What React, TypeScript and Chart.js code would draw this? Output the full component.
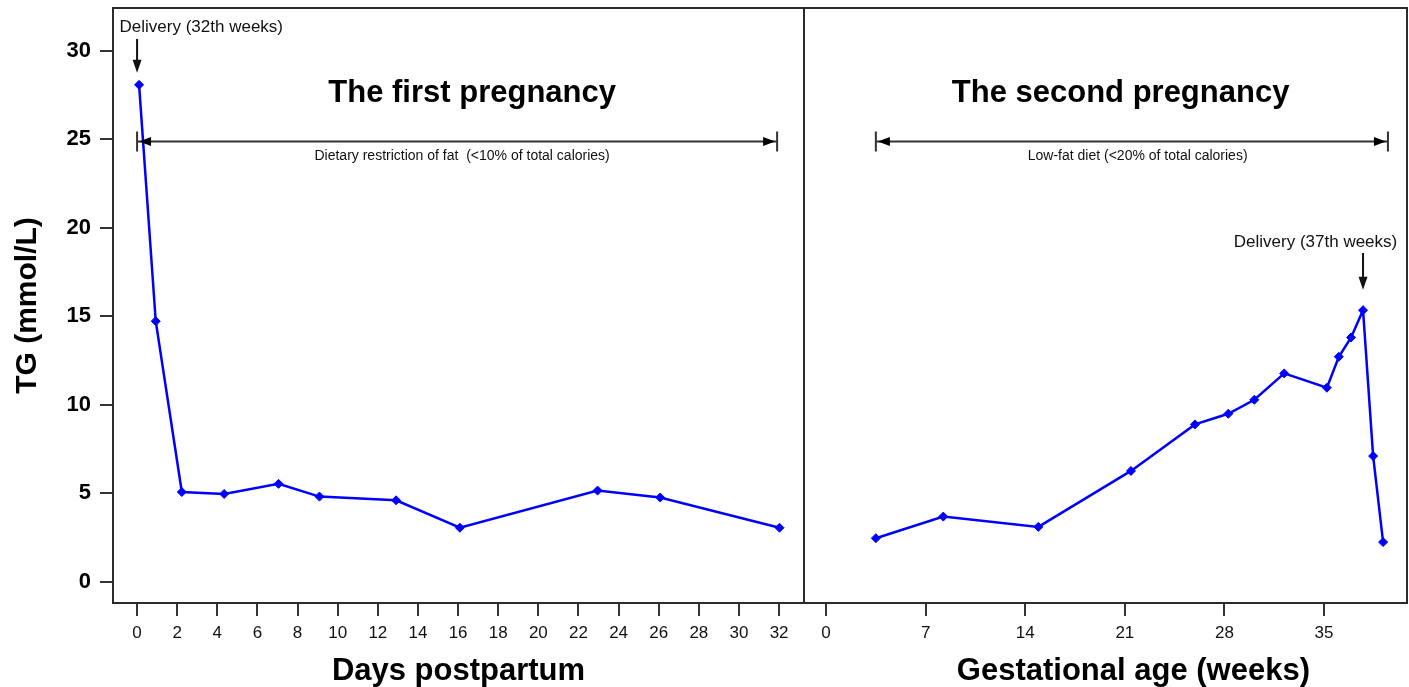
import React, { useEffect, useRef } from 'react';
import { Chart, registerables } from 'chart.js';

Chart.register(...registerables);

// ---- Data ----
const daysPostpartum = [0.1, 0.93, 2.23, 4.34, 7.05, 9.09, 12.91, 16.09, 22.95, 26.07, 32.02];
const tgFirstPregnancy = [28.07, 14.72, 5.07, 4.96, 5.53, 4.81, 4.6, 3.05, 5.15, 4.76, 3.05];

const gestationalWeeks = [3.5, 8.24, 14.92, 21.43, 25.93, 28.27, 30.1, 32.2, 35.2, 36.04, 36.9, 37.74, 38.45, 39.15];
const tgSecondPregnancy = [2.46, 3.68, 3.1, 6.26, 8.89, 9.49, 10.28, 11.77, 10.96, 12.71, 13.8, 15.34, 7.1, 2.24];

const yTicks = [0, 5, 10, 15, 20, 25, 30];
const dayTicks = [0, 2, 4, 6, 8, 10, 12, 14, 16, 18, 20, 22, 24, 26, 28, 30, 32];
const weekTicks = [0, 7, 14, 21, 28, 35];

const panelTitles = ['The first pregnancy', 'The second pregnancy'];
const dietLabels = ['Dietary restriction of fat  (<10% of total calories)', 'Low-fat diet (<20% of total calories)'];
const deliveryLabels = ['Delivery (32th weeks)', 'Delivery (37th weeks)'];
const rightAxisTitle = 'Gestational age (weeks)';

const FONT = '"Liberation Sans", Arial, Helvetica, sans-serif';

// annotation anchors in data coordinates
const annotationConfig = {
  titles: [
    { axis: 'x', x: 16.7, y: 27.6 },
    { axis: 'x2', x: 20.7, y: 27.6 },
  ],
  spans: [
    { axis: 'x', from: 0, to: 31.9, y: 24.87, labelX: 16.2, labelY: 24.07 },
    { axis: 'x2', from: 3.5, to: 39.49, y: 24.87, labelX: 21.9, labelY: 24.07 },
  ],
  delivery: [
    { axis: 'x', x: 0, textX: 3.2, textY: 31.3, top: 30.66, tip: 28.75 },
    { axis: 'x2', x: 37.74, textX: 34.4, textY: 19.18, top: 18.57, tip: 16.5 },
  ],
  rightAxisTitleX: 21.6,
};

function drawArrowHead(ctx: CanvasRenderingContext2D, x: number, y: number, dir: 'left' | 'right' | 'down', len: number, half: number) {
  ctx.beginPath();
  if (dir === 'left') {
    ctx.moveTo(x, y);
    ctx.lineTo(x + len, y - half);
    ctx.lineTo(x + len, y + half);
  } else if (dir === 'right') {
    ctx.moveTo(x, y);
    ctx.lineTo(x - len, y - half);
    ctx.lineTo(x - len, y + half);
  } else {
    ctx.moveTo(x, y);
    ctx.lineTo(x - half, y - len);
    ctx.lineTo(x + half, y - len);
  }
  ctx.closePath();
  ctx.fill();
}

const panelPlugin = {
  id: 'panelPlugin',
  afterDatasetsDraw(chart: any) {
    const { ctx, chartArea } = chart;
    const ys = chart.scales.y;
    const xs = chart.scales.x;
    const xs2 = chart.scales.x2;
    ctx.save();
    // frame
    ctx.strokeStyle = '#2b2b2b';
    ctx.lineWidth = 2;
    ctx.strokeRect(chartArea.left, chartArea.top, chartArea.right - chartArea.left, chartArea.bottom - chartArea.top);
    ctx.beginPath();
    ctx.moveTo(xs.right, chartArea.top);
    ctx.lineTo(xs.right, chartArea.bottom);
    ctx.stroke();

    // panel titles
    ctx.fillStyle = '#000';
    ctx.font = `bold 31px ${FONT}`;
    ctx.textAlign = 'center';
    ctx.textBaseline = 'middle';
    annotationConfig.titles.forEach((t, i) => {
      const sc = chart.scales[t.axis];
      ctx.fillText(panelTitles[i], sc.getPixelForValue(t.x), ys.getPixelForValue(t.y));
    });

    // right axis title (offset from the panel centre, as in the original)
    ctx.fillText(rightAxisTitle, xs2.getPixelForValue(annotationConfig.rightAxisTitleX), xs2.bottom - 15.5);

    // spans
    annotationConfig.spans.forEach((s, i) => {
      const sc = chart.scales[s.axis];
      const x1 = sc.getPixelForValue(s.from);
      const x2 = sc.getPixelForValue(s.to);
      const y = ys.getPixelForValue(s.y);
      ctx.strokeStyle = '#333';
      ctx.lineWidth = 2;
      ctx.beginPath();
      ctx.moveTo(x1, y);
      ctx.lineTo(x2, y);
      ctx.moveTo(x1, y - 10);
      ctx.lineTo(x1, y + 10);
      ctx.moveTo(x2, y - 10);
      ctx.lineTo(x2, y + 10);
      ctx.stroke();
      ctx.fillStyle = '#000';
      drawArrowHead(ctx, x1 + 2, y, 'left', 12, 4.5);
      drawArrowHead(ctx, x2 - 2, y, 'right', 12, 4.5);
      ctx.font = `14px ${FONT}`;
      ctx.textAlign = 'center';
      ctx.textBaseline = 'middle';
      ctx.fillStyle = '#111';
      ctx.fillText(dietLabels[i], sc.getPixelForValue(s.labelX), ys.getPixelForValue(s.labelY));
    });

    // delivery arrows
    annotationConfig.delivery.forEach((d, i) => {
      const sc = chart.scales[d.axis];
      const x = sc.getPixelForValue(d.x);
      const yTop = ys.getPixelForValue(d.top);
      const yTip = ys.getPixelForValue(d.tip);
      ctx.strokeStyle = '#111';
      ctx.lineWidth = 2;
      ctx.beginPath();
      ctx.moveTo(x, yTop);
      ctx.lineTo(x, yTip - 8);
      ctx.stroke();
      ctx.fillStyle = '#111';
      drawArrowHead(ctx, x, yTip, 'down', 13, 4.5);
      ctx.font = `17px ${FONT}`;
      ctx.textAlign = 'center';
      ctx.textBaseline = 'middle';
      ctx.fillText(deliveryLabels[i], sc.getPixelForValue(d.textX), ys.getPixelForValue(d.textY));
    });
    ctx.restore();
  },
};

function makeTicks(values: number[]) {
  return (scale: any) => {
    scale.ticks = values.map((v) => ({ value: v }));
  };
}

function fitX(scale: any) {
  scale.height = 84;
  scale.paddingLeft = 0;
  scale.paddingRight = 0;
  scale.paddingTop = 0;
  scale.paddingBottom = 0;
}

function fitY(scale: any) {
  scale.width = 113;
  scale.paddingLeft = 0;
  scale.paddingRight = 0;
  scale.paddingTop = 0;
  scale.paddingBottom = 0;
}

export default function App() {
  const canvasRef = useRef<HTMLCanvasElement | null>(null);

  useEffect(() => {
    if (!canvasRef.current) return;
    const lineStyle = {
      borderColor: '#0000ff',
      backgroundColor: '#0000ff',
      borderWidth: 2.5,
      pointStyle: 'rectRot' as const,
      pointRadius: 4.5,
      pointBackgroundColor: '#0000ff',
      pointBorderColor: '#0000ff',
      pointBorderWidth: 1,
      tension: 0,
    };
    const xGrid = { display: true, drawOnChartArea: false, drawTicks: true, tickLength: 13, color: '#333', lineWidth: 2 };
    const xTickOpts = { color: '#111', font: { family: FONT, size: 17 }, padding: 7, maxRotation: 0, autoSkip: false };
    const chart = new Chart(canvasRef.current, {
      type: 'line',
      data: {
        datasets: [
          {
            label: 'First pregnancy',
            data: daysPostpartum.map((d, i) => ({ x: d, y: tgFirstPregnancy[i] })),
            xAxisID: 'x',
            yAxisID: 'y',
            ...lineStyle,
          },
          {
            label: 'Second pregnancy',
            data: gestationalWeeks.map((w, i) => ({ x: w, y: tgSecondPregnancy[i] })),
            xAxisID: 'x2',
            yAxisID: 'y',
            ...lineStyle,
          },
        ],
      },
      options: {
        animation: false,
        responsive: false,
        maintainAspectRatio: false,
        layout: { autoPadding: false, padding: { top: 8, right: 2, left: 0, bottom: 0 } },
        plugins: { legend: { display: false }, tooltip: { enabled: false } },
        scales: {
          y: {
            type: 'linear',
            position: 'left',
            min: -1.2,
            max: 32.41,
            afterBuildTicks: makeTicks(yTicks),
            afterFit: fitY,
            border: { display: false },
            grid: { display: true, drawOnChartArea: false, drawTicks: true, tickLength: 13, color: '#333', lineWidth: 2 },
            ticks: { color: '#000', font: { family: FONT, size: 22, weight: 'bold' }, padding: 9 },
            title: {
              display: true,
              text: 'TG (mmol/L)',
              color: '#000',
              font: { family: FONT, size: 30, weight: 'bold', lineHeight: 1.2 },
              padding: { top: 10, bottom: 0 },
            },
          },
          x: {
            type: 'linear',
            position: 'bottom',
            stack: 'panels',
            stackWeight: 691,
            min: -1.2,
            max: 33.24,
            afterBuildTicks: makeTicks(dayTicks),
            afterFit: fitX,
            border: { display: false },
            grid: xGrid,
            ticks: xTickOpts,
            title: {
              display: true,
              text: 'Days postpartum',
              color: '#000',
              font: { family: FONT, size: 31, weight: 'bold', lineHeight: 1.0 },
              padding: { top: 0, bottom: 0 },
            },
          },
          x2: {
            type: 'linear',
            axis: 'x',
            position: 'bottom',
            stack: 'panels',
            stackWeight: 603,
            min: -1.55,
            max: 40.83,
            afterBuildTicks: makeTicks(weekTicks),
            afterFit: fitX,
            border: { display: false },
            grid: xGrid,
            ticks: xTickOpts,
            title: { display: false },
          },
        },
      } as any,
      plugins: [panelPlugin],
    });
    return () => chart.destroy();
  }, []);

  return (
    <div style={{ position: 'fixed', left: 0, top: 0, width: 1409, height: 687, background: '#fff' }}>
      <canvas ref={canvasRef} width={1409} height={687} style={{ display: 'block' }} />
    </div>
  );
}
